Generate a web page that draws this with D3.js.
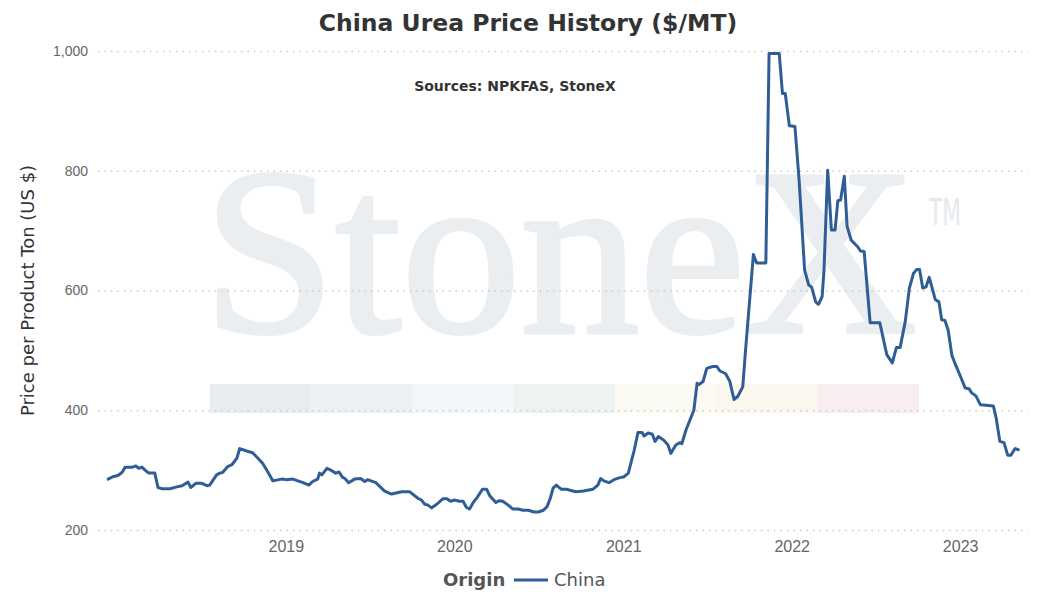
<!DOCTYPE html>
<html>
<head>
<meta charset="utf-8">
<script src="https://cdn.jsdelivr.net/npm/d3@7"></script>
<style>
    body { margin: 0; background: #fff; }
    #chart { width: 1043px; height: 611px; }
</style>
</head>
<body>
<div id="chart"></div>
<script>
// weekly-ish China urea quotes
const dates = [
    '2017-12-12','2017-12-22','2018-01-02','2018-01-11','2018-01-18','2018-02-03','2018-02-10','2018-02-16',
    '2018-02-23','2018-03-02','2018-03-10','2018-03-23','2018-03-30','2018-04-07','2018-04-25','2018-05-10',
    '2018-05-21','2018-06-03','2018-06-09','2018-06-20','2018-07-03','2018-07-14','2018-07-20','2018-08-04',
    '2018-08-11','2018-08-17','2018-08-28','2018-09-06','2018-09-17','2018-09-23','2018-10-08','2018-10-21',
    '2018-10-30','2018-11-12','2018-11-23','2018-12-04','2018-12-23','2019-01-03','2019-01-16','2019-01-27',
    '2019-02-07','2019-02-20','2019-02-28','2019-03-11','2019-03-15','2019-03-20','2019-03-31','2019-04-06',
    '2019-04-19','2019-04-26','2019-05-04','2019-05-09','2019-05-17','2019-05-30','2019-06-12','2019-06-21',
    '2019-06-27','2019-07-15','2019-08-03','2019-08-18','2019-09-09','2019-09-26','2019-10-14','2019-10-22',
    '2019-10-29','2019-11-04','2019-11-13','2019-11-24','2019-12-07','2019-12-16','2019-12-24','2020-01-01',
    '2020-01-12','2020-01-20','2020-01-27','2020-02-03','2020-02-12','2020-02-20','2020-03-02','2020-03-11',
    '2020-03-18','2020-03-31','2020-04-08','2020-04-15','2020-04-26','2020-05-07','2020-05-18','2020-05-29',
    '2020-06-09','2020-06-22','2020-07-01','2020-07-12','2020-07-20','2020-07-27','2020-08-02','2020-08-09',
    '2020-08-20','2020-08-31','2020-09-20','2020-10-07','2020-10-27','2020-11-07','2020-11-13','2020-11-20',
    '2020-12-01','2020-12-12','2020-12-23','2021-01-03','2021-01-12','2021-01-25','2021-02-02','2021-02-11',
    '2021-02-15','2021-02-24','2021-03-05','2021-03-11','2021-03-18','2021-03-30','2021-04-08','2021-04-14',
    '2021-04-25','2021-05-04','2021-05-08','2021-05-17','2021-06-03','2021-06-10','2021-06-14','2021-06-23',
    '2021-07-01','2021-07-14','2021-07-23','2021-07-29','2021-08-11','2021-08-20','2021-08-29','2021-09-06',
    '2021-09-17','2021-09-23','2021-10-10','2021-10-17','2021-11-06','2021-11-13','2021-12-05','2021-12-12',
    '2021-12-18','2021-12-27','2022-01-08','2022-01-17','2022-01-29','2022-02-07','2022-02-13','2022-02-22',
    '2022-02-28','2022-03-08','2022-03-12','2022-03-20','2022-03-28','2022-04-05','2022-04-11','2022-04-17',
    '2022-04-25','2022-05-01','2022-05-10','2022-05-24','2022-05-30','2022-06-07','2022-06-20','2022-07-11',
    '2022-07-26','2022-08-07','2022-08-16','2022-08-24','2022-09-04','2022-09-13','2022-09-22','2022-09-29',
    '2022-10-05','2022-10-12','2022-10-19','2022-10-26','2022-11-08','2022-11-16','2022-11-22','2022-11-29',
    '2022-12-06','2022-12-14','2022-12-23','2023-01-02','2023-01-12','2023-01-20','2023-01-26','2023-02-04',
    '2023-02-14','2023-03-14','2023-03-20','2023-03-28','2023-04-06','2023-04-14','2023-04-21','2023-04-30',
    '2023-05-07'
];

const prices = [
    285, 289, 291, 296, 305, 305, 307, 303,
    305, 300, 295, 295, 271, 269, 269, 272,
    274, 280, 271, 278, 278, 274, 275, 292,
    295, 296, 306, 309, 320, 336, 332, 329,
    322, 311, 297, 282, 285, 284, 285, 282,
    279, 275, 281, 285, 295, 292, 303, 301,
    295, 297, 288, 286, 279, 285, 286, 281,
    284, 279, 265, 260, 264, 264, 253, 250,
    243, 242, 237, 243, 252, 252, 248, 250,
    248, 248, 238, 235, 247, 255, 268, 268,
    257, 246, 249, 248, 242, 235, 235, 233,
    233, 230, 230, 233, 239, 253, 270, 275,
    268, 268, 264, 265, 268, 275, 286, 282,
    279, 284, 287, 289, 295, 334, 363, 363,
    357, 362, 360, 348, 356, 350, 342, 328,
    342, 346, 344, 367, 400, 445, 443, 448,
    470, 473, 473, 466, 461, 448, 418, 423,
    439, 500, 660, 646, 646, 996, 996, 929,
    929, 875, 874, 785, 634, 609, 606, 581,
    577, 590, 634, 801, 701, 701, 750, 751,
    791, 707, 684, 673, 666, 665, 546, 546,
    493, 479, 505, 505, 548, 604, 629, 635,
    635, 604, 606, 622, 585, 581, 551, 550,
    534, 492, 474, 456, 437, 436, 429, 424,
    409, 407, 387, 348, 346, 325, 325, 336,
    334
];

const yTicks = [200, 400, 600, 800, 1000];
const xTickYears = ['2019', '2020', '2021', '2022', '2023'];
const seriesName = 'China';
const legendTitle = 'Origin';
const chartTitle = 'China Urea Price History ($/MT)';
const chartSubtitle = 'Sources: NPKFAS, StoneX';
const yTitle = 'Price per Product Ton (US $)';

// logo strip colours under the watermark
const bandColors = ['#eaedf0', '#edf1f4', '#f2f6f9', '#edf3f1', '#fbfbf3', '#fbf7ee', '#f8eef0'];

class LineChart {

    constructor(opts) {
        this.element = opts.element;
        this.data = opts.dates.map((d, i) => ({date: d3.timeParse('%Y-%m-%d')(d), value: opts.values[i]}));
        this.color = opts.color;
        this.draw();
    }

    draw() {
        this.width = 1043;
        this.height = 611;
        this.margin = {top: 51, right: 15, bottom: 81, left: 98};

        this.element.innerHTML = '';
        this.svg = d3.select(this.element).append('svg')
            .attr('width', this.width)
            .attr('height', this.height)
            .style('font-family', "'DejaVu Sans', Verdana, sans-serif");

        this.addWatermark();
        this.createScales();
        this.addAxes();
        this.addLine();
        this.addTitles();
        this.addLegend();
    }

    createScales() {
        this.xScale = d3.scaleTime()
            .domain([new Date(2017, 10, 20), new Date(2023, 4, 28)])
            .range([this.margin.left, this.width - this.margin.right]);

        this.yScale = d3.scaleLinear()
            .domain([200, 1000])
            .range([this.height - this.margin.bottom, this.margin.top]);
    }

    addWatermark() {
        const g = this.svg.append('g').attr('class', 'watermark');

        // stroke in the fill colour to get the heavier logo weight
        g.append('text')
            .text('StoneX')
            .attr('x', 203)
            .attr('y', 332)
            .attr('font-family', "'Liberation Serif', 'DejaVu Serif', serif")
            .attr('font-size', 238)
            .attr('fill', '#ebeef1')
            .attr('stroke', '#ebeef1')
            .attr('stroke-width', 4)
            .attr('stroke-linejoin', 'round');

        g.append('text')
            .text('TM')
            .attr('x', 929)
            .attr('y', 225)
            .attr('textLength', 32)
            .attr('lengthAdjust', 'spacingAndGlyphs')
            .attr('font-size', 37)
            .attr('fill', '#e6e9ec');

        const bandW = 101.2;
        g.selectAll('.band')
            .data(bandColors)
            .enter()
            .append('rect')
            .attr('class', 'band')
            .attr('x', (d, i) => 210 + i * bandW)
            .attr('y', 384)
            .attr('width', bandW + 0.5)
            .attr('height', 29)
            .attr('fill', d => d);
    }

    addAxes() {
        const innerW = this.width - this.margin.left - this.margin.right;

        const yAxis = d3.axisLeft(this.yScale)
            .tickValues(yTicks)
            .tickSize(-innerW)
            .tickPadding(10)
            .tickFormat(d3.format(','));

        const yG = this.svg.append('g')
            .attr('class', 'y axis')
            .attr('transform', `translate(${this.margin.left},0)`)
            .call(yAxis);
        yG.select('.domain').remove();
        yG.selectAll('line')
            .attr('stroke', '#c4c4c4')
            .attr('stroke-width', 1.3)
            .attr('stroke-dasharray', '1.3,5.2');
        yG.selectAll('text')
            .attr('font-size', 14)
            .attr('fill', '#666');

        const xAxis = d3.axisBottom(this.xScale)
            .tickValues(xTickYears.map(y => new Date(+y, 0, 1)))
            .tickSize(0)
            .tickPadding(11)
            .tickFormat(d3.timeFormat('%Y'));

        const xG = this.svg.append('g')
            .attr('class', 'x axis')
            .attr('transform', `translate(0,${this.height - this.margin.bottom})`)
            .call(xAxis);
        xG.select('.domain').remove();
        xG.selectAll('text')
            .attr('font-size', 16)
            .attr('fill', '#666');

        this.svg.append('text')
            .text(yTitle)
            .attr('transform', `translate(34,${(this.margin.top + this.height - this.margin.bottom) / 2}) rotate(-90)`)
            .attr('text-anchor', 'middle')
            .attr('font-size', 18)
            .attr('fill', '#333');
    }

    addLine() {
        const line = d3.line()
            .x(d => this.xScale(d.date))
            .y(d => this.yScale(d.value));

        this.svg.append('path')
            .datum(this.data)
            .attr('d', line)
            .attr('fill', 'none')
            .attr('stroke', this.color)
            .attr('stroke-width', 3)
            .attr('stroke-linejoin', 'round')
            .attr('stroke-linecap', 'round');
    }

    addTitles() {
        this.svg.append('text')
            .text(chartTitle)
            .attr('x', 528)
            .attr('y', 31)
            .attr('text-anchor', 'middle')
            .attr('font-size', 23.5)
            .attr('font-weight', 'bold')
            .attr('fill', '#333');

        this.svg.append('text')
            .text(chartSubtitle)
            .attr('x', 515)
            .attr('y', 91)
            .attr('text-anchor', 'middle')
            .attr('font-size', 14)
            .attr('font-weight', 'bold')
            .attr('fill', '#333');
    }

    addLegend() {
        const g = this.svg.append('g')
            .attr('class', 'legend')
            .attr('transform', 'translate(0,586)');

        g.append('text')
            .text(legendTitle)
            .attr('x', 443)
            .attr('font-size', 18)
            .attr('font-weight', 'bold')
            .attr('fill', '#555');

        g.append('line')
            .attr('x1', 514).attr('x2', 548)
            .attr('y1', -6).attr('y2', -6)
            .attr('stroke', this.color)
            .attr('stroke-width', 3);

        g.append('text')
            .text(seriesName)
            .attr('x', 554)
            .attr('font-size', 18)
            .attr('fill', '#555');
    }
}

new LineChart({
    element: document.getElementById('chart'),
    dates: dates,
    values: prices,
    color: '#2f5e96'
});
</script>
</body>
</html>
